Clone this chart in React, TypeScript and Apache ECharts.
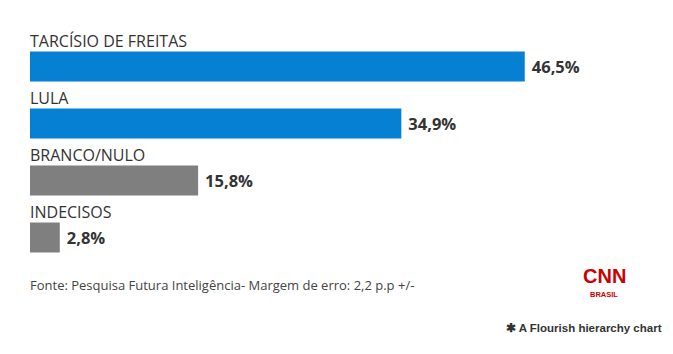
import React, { useEffect, useRef } from "react";
import * as echarts from "echarts";

const categories = ["TARCÍSIO DE FREITAS", "LULA", "BRANCO/NULO", "INDECISOS"];
const values = [46.5, 34.9, 15.8, 2.8];
const barColors = ["#0580d3", "#0580d3", "#7f7f7f", "#7f7f7f"];
const sourceText = "Fonte: Pesquisa Futura Inteligência- Margem de erro: 2,2 p.p +/-";
const creditText = "A Flourish hierarchy chart";

const FONT = "'Open Sans', 'Noto Sans', sans-serif";

export default function App() {
  const ref = useRef<HTMLDivElement>(null);
  useEffect(() => {
    if (!ref.current) return;
    const chart = echarts.init(ref.current, undefined, { renderer: "svg" });
    const fmt = (v: number) => v.toFixed(1).replace(".", ",") + "%";
    chart.setOption({
      animation: false,
      backgroundColor: "#ffffff",
      grid: { left: 30, top: 38, width: 532, height: 228, containLabel: false },
      xAxis: { type: "value", min: 0, max: 50, show: false },
      yAxis: {
        type: "category",
        data: categories,
        inverse: true,
        show: false,
      },
      series: [
        {
          type: "bar",
          data: values.map((v, i) => ({ value: v, itemStyle: { color: barColors[i] } })),
          barWidth: 30,
          label: {
            show: true,
            position: "right",
            distance: 7,
            formatter: (p: any) => fmt(p.value),
            fontFamily: FONT,
            fontWeight: "bold",
            fontSize: 16.5,
            color: "#333333",
          },
        },
        {
          type: "bar",
          data: values,
          barWidth: 30,
          barGap: "-100%",
          itemStyle: { color: "rgba(0,0,0,0)" },
          silent: true,
          label: {
            show: true,
            position: [0, -3],
            verticalAlign: "bottom",
            align: "left",
            formatter: "{b}",
            fontFamily: FONT,
            fontSize: 16,
            color: "#333333",
          },
        },
      ],
      graphic: [
        {
          type: "text",
          left: 30,
          top: 278,
          style: { text: sourceText, fontFamily: FONT, fontSize: 13, fill: "#444444" },
        },
        {
          type: "text",
          left: 583,
          top: 266,
          style: { text: "CNN", fontFamily: "'Liberation Sans', Arial, sans-serif", fontWeight: "bold", fontSize: 20, fill: "#cc0000", letterSpacing: -3 },
        },
        {
          type: "text",
          left: 590,
          top: 290,
          style: { text: "BRASIL", fontFamily: "'Liberation Sans', Arial, sans-serif", fontWeight: "bold", fontSize: 7.5, fill: "#cc0000" },
        },
        {
          type: "text",
          left: 506,
          top: 322,
          style: { text: "✱ " + creditText, fontFamily: "'Liberation Sans', Arial, sans-serif", fontWeight: "bold", fontSize: 11.5, fill: "#333333" },
        },
      ],
    });
    return () => chart.dispose();
  }, []);
  return <div ref={ref} style={{ width: 673, height: 354, margin: -8 }} />;
}
